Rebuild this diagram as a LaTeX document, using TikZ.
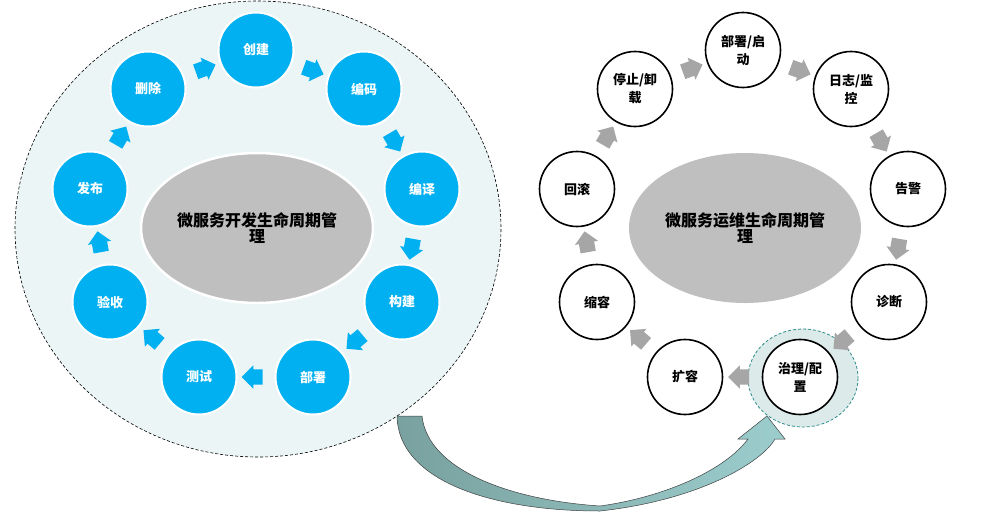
\documentclass[tikz,border=0pt]{standalone}
\usepackage{xcolor}
\usepackage{amsfonts,amsmath,amssymb, amsthm}
\usepackage{fontspec}
\usepackage{tikz}
\usetikzlibrary{shapes.arrows,shapes.geometric}
\newfontfamily\cjk{Noto Sans CJK SC}
\definecolor{azul}{HTML}{00B0F0}
\definecolor{gris}{HTML}{BFBFBF}
\definecolor{grisflecha}{HTML}{A6A6A6}
\definecolor{fondo}{HTML}{EBF5F6}
\definecolor{marca}{HTML}{DCEAEA}
\definecolor{borde}{HTML}{2E8B8B}
\definecolor{verdeosc}{HTML}{78A19F}
\definecolor{verdecla}{HTML}{9CCDCD}

\begin{document}
\begin{tikzpicture}[x=1pt, y=-1pt,
    dev/.style = {circle, fill=azul, draw=white, line width=2pt, minimum size=75pt, inner sep=0pt,
                  align=center, text=white, font=\cjk\bfseries\fontsize{13}{17}\selectfont},
    ops/.style = {circle, fill=white, draw=black, line width=1.6pt, minimum size=75pt, inner sep=0pt,
                  align=center, font=\cjk\bfseries\fontsize{13}{18}\selectfont},
    centro/.style = {ellipse, fill=gris, minimum width=232pt, minimum height=150pt, inner sep=0pt,
                     align=center, font=\cjk\bfseries\fontsize{16}{16.5}\selectfont},
    flecha/.style = {single arrow, inner xsep=6.5pt, inner ysep=7.5pt, single arrow head extend=4pt,
                     midway, sloped, allow upside down}
  ]
  \useasboundingbox (0,0) rectangle (999,512);

  % Fondo del ciclo de desarrollo
  \draw[dash pattern=on 3pt off 2pt, line width=0.6pt, fill=fondo] (258,229) ellipse [x radius=243, y radius=228];

  % Ciclo de desarrollo
  \node[centro, draw=white, line width=2.5pt] (desarrollo) at (257,228) {微服务开发生命周期管\\理};
  \node[dev] (cre) at (256,50) {创建};
  \node[dev] (cod) at (364,89) {编码};
  \node[dev] (cmp) at (422,189) {编译};
  \node[dev] (bld) at (402,302) {构建};
  \node[dev] (dep) at (313,377) {部署};
  \node[dev] (tst) at (199,377) {测试};
  \node[dev] (acc) at (110,302) {验收};
  \node[dev] (pub) at (90,189) {发布};
  \node[dev] (del) at (148,89) {删除};
  \foreach \a/\b in {del/cre, cre/cod, cod/cmp, cmp/bld, bld/dep, dep/tst, tst/acc, acc/pub, pub/del}
    \path (\a) -- node[flecha, fill=azul] (f-\a) {} (\b);

  % Ciclo de operacion
  \draw[dash pattern=on 3pt off 2pt, line width=0.8pt, draw=borde, fill=marca] (803,378) ellipse [x radius=55, y radius=49];
  \node[centro] (operacion) at (745,228) {微服务运维生命周期管\\理};
  \node[ops] (arr) at (743,50) {部署/启\\动};
  \node[ops] (log) at (851,89) {日志/监\\控};
  \node[ops] (ale) at (908,189) {告警};
  \node[ops] (dia) at (889,302) {诊断};
  \node[ops] (gob) at (800,377) {治理/配\\置};
  \node[ops] (exp) at (685,377) {扩容};
  \node[ops] (red) at (597,302) {缩容};
  \node[ops] (rol) at (577,189) {回滚};
  \node[ops] (par) at (635,89) {停止/卸\\载};
  \foreach \a/\b in {par/arr, arr/log, log/ale, ale/dia, dia/gob, gob/exp, exp/red, red/rol, rol/par}
    \path (\a) -- node[flecha, fill=grisflecha] (f-\a) {} (\b);

  % Flecha curva
  \shadedraw[left color=verdeosc, right color=verdecla, draw=black!75, line width=0.5pt]
    (397,416) -- (422,416)
    .. controls (428,470) and (510,500) .. (600,506)
    .. controls (665,497) and (725,470) .. (748,439)
    -- (738,439) -- (767,416) -- (785,439) -- (775,439)
    .. controls (762,462) and (700,500) .. (600,511)
    .. controls (490,511) and (398,480) .. (397,416) -- cycle;
\end{tikzpicture}
\end{document}
